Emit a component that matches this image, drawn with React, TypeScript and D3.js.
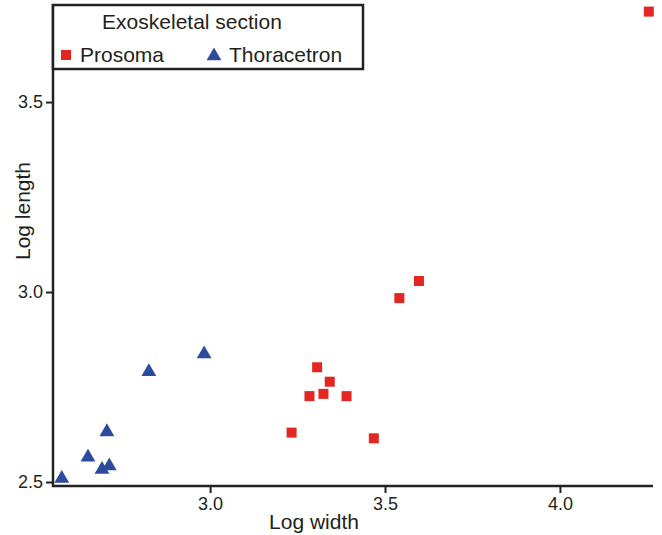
import { useEffect, useRef } from 'react';
import * as d3 from 'd3';

// Prosoma (red squares)
const prosomaWidth  = [3.597, 3.541, 3.306, 3.342, 3.284, 3.324, 3.390, 3.233, 3.468, 4.254];
const prosomaLength = [3.029, 2.984, 2.802, 2.764, 2.726, 2.732, 2.726, 2.630, 2.615, 3.738];

// Thoracetron (blue triangles)
const thoraxWidth  = [2.983, 2.825, 2.705, 2.651, 2.691, 2.712, 2.576];
const thoraxLength = [2.837, 2.790, 2.632, 2.565, 2.533, 2.542, 2.509];

const xTicks = [3.0, 3.5, 4.0];
const yTicks = [2.5, 3.0, 3.5];
const seriesNames = ['Prosoma', 'Thoracetron'];
const legendTitle = 'Exoskeletal section';

const C = {
  red: '#e32621',
  blue: '#2c4b9c',
  axis: '#222222',
  text: '#231f20',
};
const font = "'Liberation Sans', Arial, Helvetica, sans-serif";

export default function App() {
  const svgRef = useRef<SVGSVGElement | null>(null);

  useEffect(() => {
    if (!svgRef.current) return;
    const svg = d3.select(svgRef.current);
    svg.selectAll('*').remove();

    const left = 53, right = 653, top = 4, bottom = 486;

    const x = d3.scaleLinear().domain([2.551, 4.266]).range([left, right]);
    const y = d3.scaleLinear().domain([2.4895, 3.758]).range([bottom, top]);

    const g = svg.append('g');

    // points
    const prosoma = prosomaWidth.map((w, i) => ({ w, l: prosomaLength[i] }));
    const thorax = thoraxWidth.map((w, i) => ({ w, l: thoraxLength[i] }));

    const sq = d3.symbol().type(d3.symbolSquare).size(100);
    const tri = d3.symbol().type(d3.symbolTriangle).size(95);

    g.selectAll('.th').data(thorax).join('path').attr('class', 'th')
      .attr('d', tri)
      .attr('transform', d => `translate(${x(d.w)},${y(d.l)})`)
      .attr('fill', C.blue);

    g.selectAll('.pr').data(prosoma).join('path').attr('class', 'pr')
      .attr('d', sq)
      .attr('transform', d => `translate(${x(d.w)},${y(d.l)})`)
      .attr('fill', C.red);

    // axes
    const styleAxis = (ax: any) => {
      ax.select('.domain').remove();
      ax.selectAll('line').attr('stroke', C.axis).attr('stroke-width', 2);
      ax.selectAll('text').attr('fill', C.text).attr('font-family', font).attr('font-size', '18px');
    };

    g.append('g').attr('transform', `translate(0,${bottom})`)
      .call(d3.axisBottom(x).tickValues(xTicks).tickFormat(d3.format('.1f')).tickSize(7).tickPadding(4))
      .call(styleAxis);

    g.append('g').attr('transform', `translate(${left},0)`)
      .call(d3.axisLeft(y).tickValues(yTicks).tickFormat(d3.format('.1f')).tickSize(7).tickPadding(3))
      .call(styleAxis);

    g.append('path')
      .attr('d', `M${left},${top}V${bottom}H${right}`)
      .attr('fill', 'none').attr('stroke', C.axis).attr('stroke-width', 2.5);

    g.append('text').attr('x', 314).attr('y', 529)
      .attr('text-anchor', 'middle').attr('font-family', font).attr('font-size', '21px')
      .attr('fill', C.text).text('Log width');

    g.append('text').attr('transform', `translate(30,${211}) rotate(-90)`)
      .attr('text-anchor', 'middle').attr('font-family', font).attr('font-size', '21px')
      .attr('fill', C.text).text('Log length');

    // legend
    const lg = g.append('g');
    lg.append('rect').attr('x', 53).attr('y', 5).attr('width', 310).attr('height', 64)
      .attr('fill', 'white').attr('stroke', C.axis).attr('stroke-width', 2.5);
    lg.append('text').attr('x', 192).attr('y', 29).attr('text-anchor', 'middle')
      .attr('font-family', font).attr('font-size', '21px').attr('fill', C.text).text(legendTitle);

    lg.append('path').attr('d', sq).attr('transform', 'translate(66,55)').attr('fill', C.red);
    lg.append('text').attr('x', 80).attr('y', 62).attr('font-family', font).attr('font-size', '21px')
      .attr('fill', C.text).text(seriesNames[0]);
    lg.append('path').attr('d', tri).attr('transform', 'translate(214,56)').attr('fill', C.blue);
    lg.append('text').attr('x', 229).attr('y', 62).attr('font-family', font).attr('font-size', '21px')
      .attr('fill', C.text).text(seriesNames[1]);
  }, []);

  return (
    <svg ref={svgRef} width={662} height={535}
      style={{ position: 'fixed', left: 0, top: 0, display: 'block', background: 'white' }} />
  );
}
